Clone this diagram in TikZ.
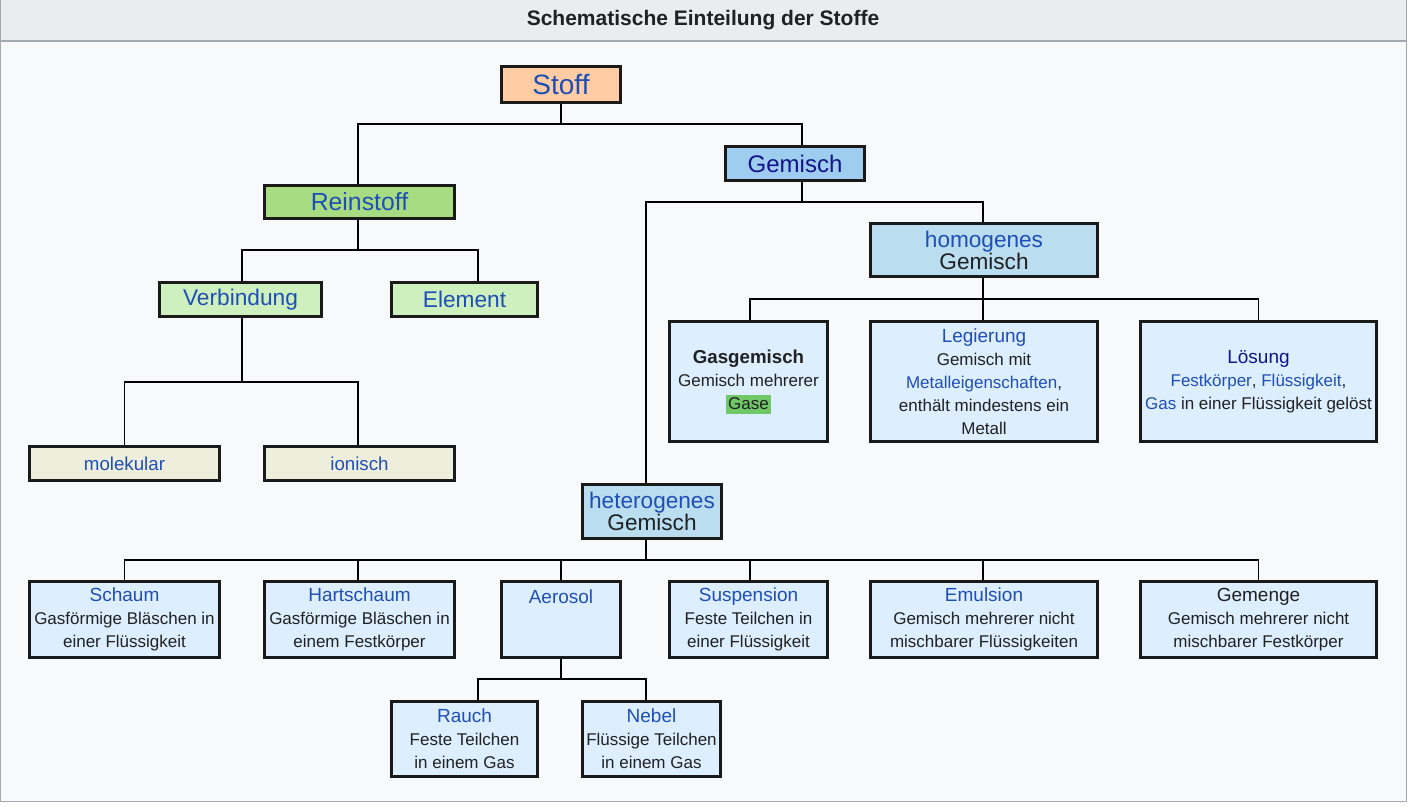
\documentclass[tikz,border=0pt]{standalone}
\usepackage{fontspec}
\setmainfont{Liberation Sans}
\definecolor{linkblue}{HTML}{1F4FB5}
\definecolor{navy}{HTML}{14148A}
\definecolor{txt}{HTML}{202122}
\definecolor{frame}{HTML}{A2A9B1}
\definecolor{titlebg}{HTML}{EAECF0}
\definecolor{bodybg}{HTML}{F8F9FA}
\definecolor{peach}{HTML}{FFCCA4}
\definecolor{midblue}{HTML}{9FCDF0}
\definecolor{green1}{HTML}{A8DC82}
\definecolor{green2}{HTML}{CEF0BE}
\definecolor{beige}{HTML}{EEEEDC}
\definecolor{homblue}{HTML}{BADDF0}
\definecolor{light}{HTML}{DDEEFF}
\definecolor{gasgreen}{HTML}{6FC865}
\definecolor{boxline}{HTML}{1A1A1A}
\newcommand{\fs}[1]{\fontsize{#1}{23}\selectfont}
\begin{document}
\begin{tikzpicture}[x=1pt,y=-1pt,
  box/.style={draw=boxline,line width=3pt,inner sep=0pt,align=center,text=txt,font=\fs{17}},
  link/.style={line width=1.1pt,draw=black}]
\useasboundingbox (0,0) rectangle (1410,806);
\fill[white] (0,0) rectangle (1410,806);
\fill[bodybg] (0.5,41) rectangle (1406.5,801.5);
\fill[titlebg] (0.5,0) rectangle (1406.5,41);
\draw[frame,line width=1.2pt] (0.5,0) -- (0.5,801.5) -- (1406.5,801.5) -- (1406.5,0);
\draw[frame,line width=1.6pt] (0.5,41) -- (1406.5,41);
\node[font=\bfseries\fontsize{21}{23}\selectfont,text=txt] (title) at (703,20.5) {Schematische Einteilung der Stoffe};
% level nodes
\node[box,fill=peach,minimum width=119,minimum height=36,font=\fs{28}] (stoff) at (561,84.5) {\textcolor{linkblue}{Stoff}};
\node[box,fill=midblue,minimum width=139,minimum height=34,font=\fs{24}] (gemisch) at (795,163.5) {\textcolor{navy}{Gemisch}};
\node[box,fill=green1,minimum width=190,minimum height=33,font=\fs{24.8}] (rein) at (359.5,202) {\textcolor{linkblue}{Reinstoff}};
\node[box,fill=green2,minimum width=162,minimum height=34,font=\fs{22.7}] (verb) at (240.5,299.5) {\textcolor{linkblue}{Verbindung}};
\node[box,fill=green2,minimum width=146,minimum height=34,font=\fs{22.7}] (elem) at (464.5,299.5) {\textcolor{linkblue}{Element}};
\node[box,fill=beige,minimum width=190,minimum height=34,font=\fs{18.7}] (mol) at (124.5,463.5) {\textcolor{linkblue}{molekular}};
\node[box,fill=beige,minimum width=190,minimum height=34,font=\fs{18.7}] (ion) at (359.5,463.5) {\textcolor{linkblue}{ionisch}};
\node[box,fill=homblue,minimum width=227,minimum height=53,font=\fontsize{22.6}{22}\selectfont] (hom) at (984,250) {\textcolor{linkblue}{homogenes}\\Gemisch};
\node[box,fill=homblue,minimum width=139,minimum height=54,font=\fontsize{22.6}{22}\selectfont] (het) at (652,511.5) {\textcolor{linkblue}{heterogenes}\\Gemisch};
% homogeneous children
\node[box,fill=light,minimum width=158,minimum height=120] (gas) at (748.5,381.5) {{\bfseries\fs{18.7}Gasgemisch}\\Gemisch mehrerer\\{\setlength\fboxsep{0pt}\colorbox{gasgreen}{\kern2pt\rule[-4.5pt]{0pt}{19pt}Gase\kern2pt}}};
\node[box,fill=light,minimum width=227,minimum height=120] (leg) at (984,381.5) {{\fs{19}\textcolor{linkblue}{Legierung}}\\Gemisch mit\\\textcolor{linkblue}{Metalleigenschaften},\\enthält mindestens ein\\Metall};
\node[box,fill=light,minimum width=236,minimum height=120] (loes) at (1258.5,381.5) {{\fs{19}\textcolor{navy}{Lösung}}\\\textcolor{linkblue}{Festkörper}, \textcolor{linkblue}{Flüssigkeit},\\\textcolor{linkblue}{Gas} in einer Flüssigkeit gelöst};
% heterogeneous children
\node[box,fill=light,minimum width=190,minimum height=76] (schaum) at (124.5,619.5) {{\fs{19}\textcolor{linkblue}{Schaum}}\\Gasförmige Bläschen in\\einer Flüssigkeit};
\node[box,fill=light,minimum width=190,minimum height=76] (hart) at (359.5,619.5) {{\fs{19}\textcolor{linkblue}{Hartschaum}}\\Gasförmige Bläschen in\\einem Festkörper};
\node[box,fill=light,minimum width=119,minimum height=76] (aero) at (561,619.5) {{\fs{19}\textcolor{linkblue}{Aerosol}}\\\mbox{}\\\mbox{}};
\node[box,fill=light,minimum width=158,minimum height=76] (susp) at (748.5,619.5) {{\fs{19}\textcolor{linkblue}{Suspension}}\\Feste Teilchen in\\einer Flüssigkeit};
\node[box,fill=light,minimum width=227,minimum height=76] (emul) at (984,619.5) {{\fs{19}\textcolor{linkblue}{Emulsion}}\\Gemisch mehrerer nicht\\mischbarer Flüssigkeiten};
\node[box,fill=light,minimum width=236,minimum height=76] (gem) at (1258.5,619.5) {{\fs{19}Gemenge}\\Gemisch mehrerer nicht\\mischbarer Festkörper};
\node[box,fill=light,minimum width=146,minimum height=75] (rauch) at (464.5,739) {{\fs{19}\textcolor{linkblue}{Rauch}}\\Feste Teilchen\\in einem Gas};
\node[box,fill=light,minimum width=138,minimum height=75] (nebel) at (651.5,739) {{\fs{19}\textcolor{linkblue}{Nebel}}\\Flüssige Teilchen\\in einem Gas};
% connectors
\draw[link] (stoff.south) -- ++(0,20) -| ([xshift=-1.5pt]rein.north);
\draw[link] (stoff.south) -- ++(0,20) -| ([xshift=7pt]gemisch.north);
\draw[link] ([xshift=7pt]gemisch.south) -- ++(0,20) -| ([xshift=-1pt]hom.north);
\draw[link] ([xshift=7pt]gemisch.south) -- ++(0,20) -| ([xshift=-6pt]het.north);
\draw[link] ([xshift=-1.5pt]rein.south) -- ++(0,30) -| ([xshift=1.5pt]verb.north);
\draw[link] ([xshift=-1.5pt]rein.south) -- ++(0,30) -| ([xshift=13.5pt]elem.north);
\draw[link] ([xshift=1.5pt]verb.south) -- ++(0,64) -| (mol.north);
\draw[link] ([xshift=1.5pt]verb.south) -- ++(0,64) -| ([xshift=-1.5pt]ion.north);
\draw[link] ([xshift=-1pt]hom.south) -- ++(0,21) -| ([xshift=1.5pt]gas.north);
\draw[link] ([xshift=-1pt]hom.south) -- ++(0,21) -| ([xshift=-1pt]leg.north);
\draw[link] ([xshift=-1pt]hom.south) -- ++(0,21) -| (loes.north);
\draw[link] ([xshift=-6pt]het.south) -- ++(0,20) -| (schaum.north);
\draw[link] ([xshift=-6pt]het.south) -- ++(0,20) -| ([xshift=-1.5pt]hart.north);
\draw[link] ([xshift=-6pt]het.south) -- ++(0,20) -| (aero.north);
\draw[link] ([xshift=-6pt]het.south) -- ++(0,20) -| ([xshift=1.5pt]susp.north);
\draw[link] ([xshift=-6pt]het.south) -- ++(0,20) -| ([xshift=-1pt]emul.north);
\draw[link] ([xshift=-6pt]het.south) -- ++(0,20) -| (gem.north);
\draw[link] (aero.south) -- ++(0,20) -| ([xshift=13.5pt]rauch.north);
\draw[link] (aero.south) -- ++(0,20) -| ([xshift=-5.5pt]nebel.north);
\end{tikzpicture}
\end{document}
